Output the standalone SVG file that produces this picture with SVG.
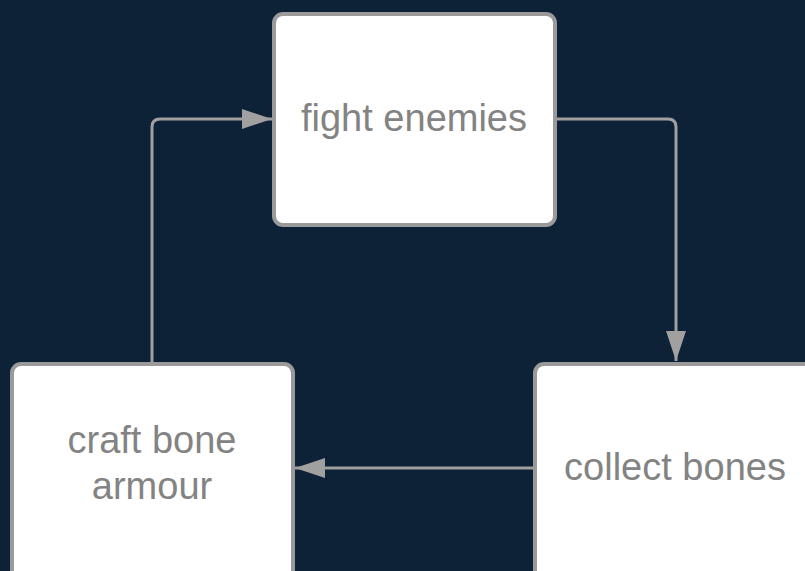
<svg xmlns="http://www.w3.org/2000/svg" width="805" height="571" viewBox="0 0 805 571">
<style>
.node{fill:#ffffff;stroke:#9a9a9a;stroke-width:4}
.lbl{font-family:"Liberation Sans",Arial,sans-serif;font-size:38px;fill:#838383;text-anchor:middle}
.conn{fill:none;stroke:#a0a0a0;stroke-width:3}
</style>
<defs>
<marker id="ah" markerUnits="userSpaceOnUse" markerWidth="30" markerHeight="22" refX="30" refY="11" orient="auto">
<path d="M0,1 L30,11 L0,21 Z" fill="#a0a0a0"/>
</marker>
</defs>
<rect width="805" height="571" fill="#0d2137"/>
<g id="connectors">
<path class="conn" d="M557,119 H668 Q676,119 676,127 V361" marker-end="url(#ah)"/>
<path class="conn" d="M533,468 H295" marker-end="url(#ah)"/>
<path class="conn" d="M152,362 V127 Q152,119 160,119 H272" marker-end="url(#ah)"/>
</g>
<g id="fight-enemies">
<rect class="node" x="274" y="14" width="281" height="211" rx="9"/>
<text class="lbl" x="414" y="131">fight enemies</text>
</g>
<g id="collect-bones">
<rect class="node" x="535" y="364" width="290" height="230" rx="9"/>
<text class="lbl" x="675" y="480">collect bones</text>
</g>
<g id="craft-bone-armour">
<rect class="node" x="12" y="364" width="281" height="230" rx="9"/>
<text class="lbl" x="152" y="453">craft bone</text>
<text class="lbl" x="152" y="499">armour</text>
</g>
</svg>
